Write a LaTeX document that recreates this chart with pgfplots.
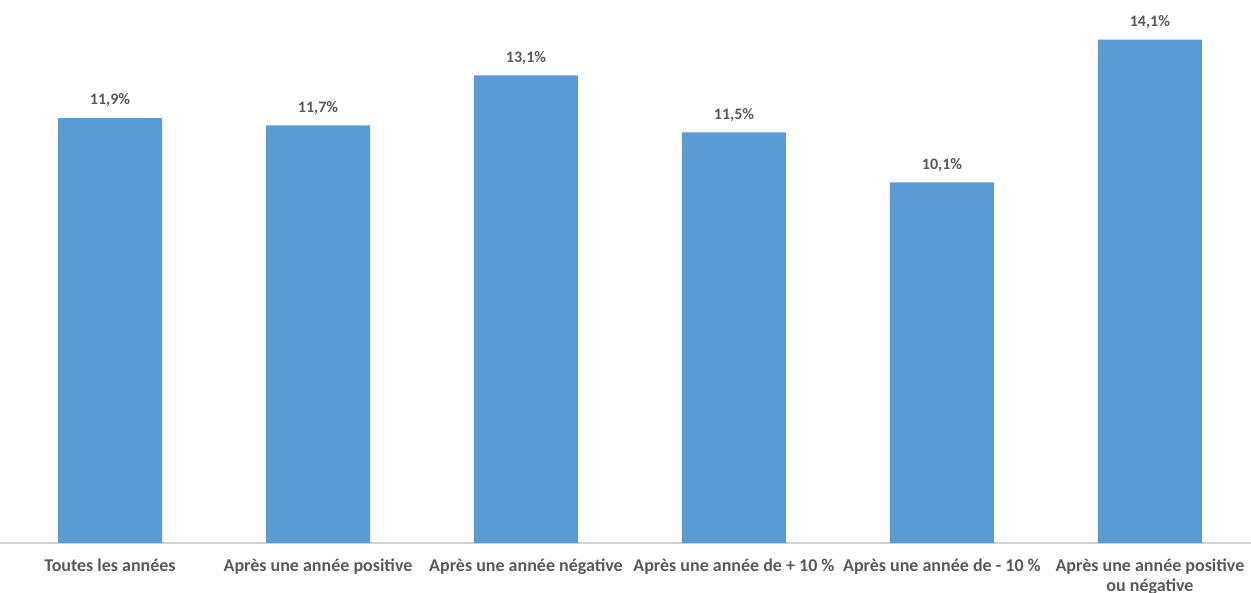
\documentclass[border=0pt]{standalone}
\usepackage{fontspec}
\setmainfont{Carlito}
\usepackage{pgfplots}
\pgfplotsset{compat=1.18}
\definecolor{barblue}{HTML}{5B9BD5}
\definecolor{txtgray}{HTML}{595959}
\begin{document}
\begin{tikzpicture}
\begin{axis}[
  name=ax,
  scale only axis,
  width=625.5pt, height=271.5pt,
  xmin=-0.529, xmax=5.486, ymin=0, ymax=15.21,
  axis x line=bottom, axis y line=none,
  axis line style={draw=gray!35, line width=0.8pt, -},
  xtick=data, major tick length=0pt,
  xticklabels={Toutes les années, Après une année positive, Après une année négative, Après une année de + 10 \%, Après une année de - 10 \%, {Après une année positive\\ou négative}},
  xticklabel style={font=\fontsize{9}{9.8}\selectfont\bfseries, text=txtgray, align=center, yshift=-4.5pt},
  ybar, bar width=52pt,
  /pgf/number format/assume math mode=true,
  nodes near coords={\pgfmathprintnumber[fixed,fixed zerofill,precision=1,use comma]{\pgfplotspointmeta}\%},
  nodes near coords style={font=\fontsize{8}{9}\selectfont\bfseries, text=txtgray, yshift=2pt},
  clip=false,
]
\addplot[fill=barblue, draw=none] coordinates {(0,11.9) (1,11.7) (2,13.1) (3,11.5) (4,10.1) (5,14.1)};
\end{axis}
\pgfresetboundingbox
\path[use as bounding box] (ax.south west) ++(0,-25pt) rectangle (ax.north east);
\end{tikzpicture}
\end{document}
